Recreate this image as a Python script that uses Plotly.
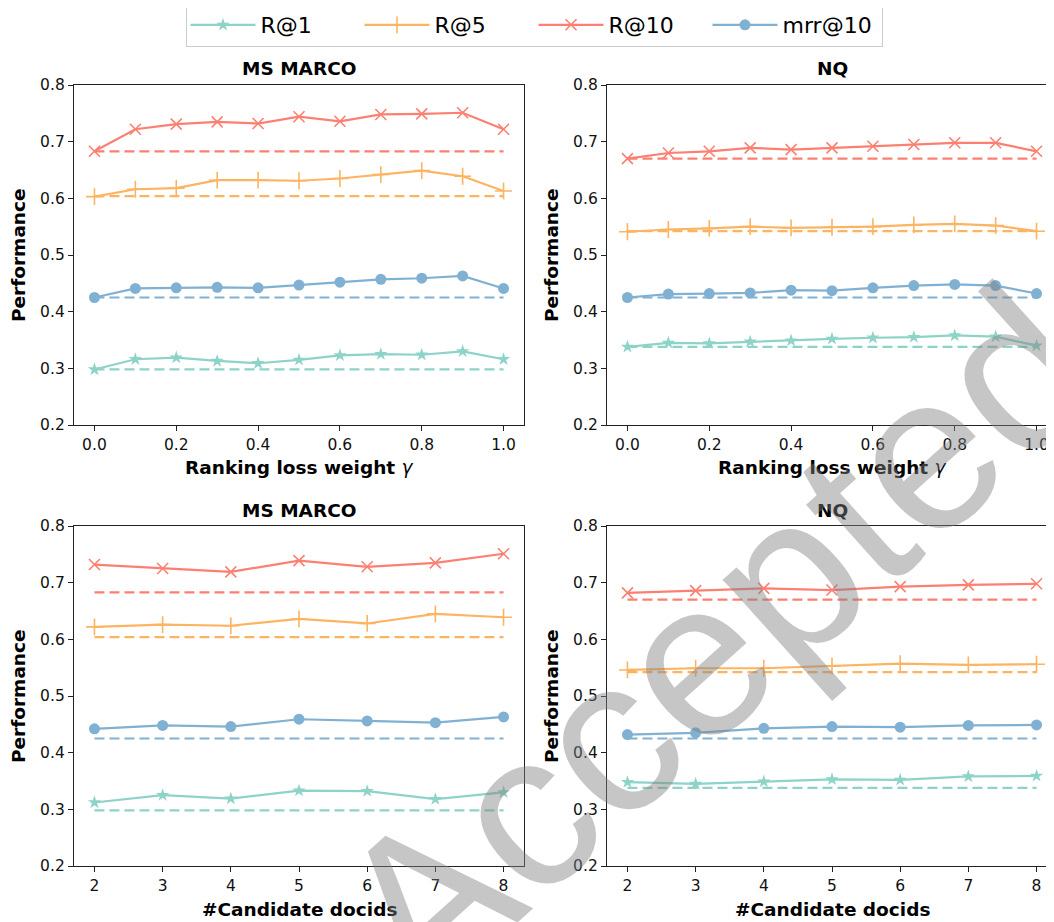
import plotly.graph_objects as go

# screen size and page offset (browser body margin)
SW, SH = 1054, 922
OFF = 8
W, H = SW - OFF, SH - OFF

# ---------------- data ----------------
metrics = ["R@1", "R@5", "R@10", "mrr@10"]
gammas = [0.0, 0.1, 0.2, 0.3, 0.4, 0.5, 0.6, 0.7, 0.8, 0.9, 1.0]
docids = [2, 3, 4, 5, 6, 7, 8]

# MS MARCO, ranking loss weight
msm_gamma_r1 = [0.298, 0.316, 0.319, 0.313, 0.309, 0.315, 0.323, 0.325, 0.324, 0.330, 0.316]
msm_gamma_r5 = [0.603, 0.616, 0.618, 0.632, 0.632, 0.631, 0.635, 0.642, 0.649, 0.639, 0.613]
msm_gamma_r10 = [0.683, 0.722, 0.731, 0.735, 0.732, 0.744, 0.736, 0.748, 0.749, 0.751, 0.722]
msm_gamma_mrr = [0.425, 0.441, 0.442, 0.443, 0.442, 0.447, 0.452, 0.457, 0.459, 0.463, 0.441]

# NQ, ranking loss weight
nq_gamma_r1 = [0.338, 0.345, 0.344, 0.347, 0.349, 0.352, 0.354, 0.355, 0.358, 0.356, 0.340]
nq_gamma_r5 = [0.541, 0.545, 0.547, 0.550, 0.548, 0.549, 0.550, 0.553, 0.555, 0.552, 0.542]
nq_gamma_r10 = [0.670, 0.680, 0.683, 0.689, 0.686, 0.689, 0.692, 0.695, 0.698, 0.698, 0.683]
nq_gamma_mrr = [0.425, 0.431, 0.432, 0.433, 0.438, 0.437, 0.442, 0.446, 0.448, 0.446, 0.432]

# MS MARCO, #candidate docids
msm_doc_r1 = [0.312, 0.325, 0.319, 0.333, 0.332, 0.318, 0.330]
msm_doc_r5 = [0.622, 0.626, 0.624, 0.636, 0.628, 0.645, 0.639]
msm_doc_r10 = [0.732, 0.725, 0.719, 0.739, 0.728, 0.735, 0.751]
msm_doc_mrr = [0.442, 0.448, 0.446, 0.459, 0.456, 0.453, 0.463]

# NQ, #candidate docids
nq_doc_r1 = [0.348, 0.345, 0.349, 0.353, 0.352, 0.358, 0.359]
nq_doc_r5 = [0.546, 0.549, 0.549, 0.553, 0.557, 0.555, 0.556]
nq_doc_r10 = [0.682, 0.686, 0.690, 0.687, 0.693, 0.696, 0.698]
nq_doc_mrr = [0.432, 0.435, 0.443, 0.446, 0.445, 0.448, 0.449]

# baselines (dashed)
msm_baseline = [0.298, 0.604, 0.683, 0.425]
nq_baseline = [0.338, 0.542, 0.670, 0.425]

y_ticks = [0.2, 0.3, 0.4, 0.5, 0.6, 0.7, 0.8]
gamma_ticks = [0.0, 0.2, 0.4, 0.6, 0.8, 1.0]

# ---------------- style ----------------
colors = ["#8dd3c7", "#fdb462", "#fb8072", "#80b1d3"]
symbols = ["star", "cross-thin", "x-thin", "circle"]
msizes = [10, 12, 11, 11]
FONT = "DejaVu Sans"

def px_x(p):  # screen pixel -> paper fraction
    return (p - OFF) / W

def px_y(p):
    return 1 - (p - OFF) / H

GAMMA_LABEL = "Ranking loss weight <span style='font-weight:normal'><i>γ</i></span>"
DOC_LABEL = "#Candidate docids"

# panel geometry in screen pixels: (left, right, top, bottom)
panels = [
    dict(name="MS MARCO", x=gammas, series=[msm_gamma_r1, msm_gamma_r5, msm_gamma_r10, msm_gamma_mrr],
         base=msm_baseline, box=(74, 524, 85, 425), xr=(-0.05, 1.05), xlabel=GAMMA_LABEL),
    dict(name="NQ", x=gammas, series=[nq_gamma_r1, nq_gamma_r5, nq_gamma_r10, nq_gamma_mrr],
         base=nq_baseline, box=(607, 1057, 85, 425), xr=(-0.05, 1.05), xlabel=GAMMA_LABEL),
    dict(name="MS MARCO", x=docids, series=[msm_doc_r1, msm_doc_r5, msm_doc_r10, msm_doc_mrr],
         base=msm_baseline, box=(74, 524, 526, 866), xr=(1.7, 8.3), xlabel=DOC_LABEL),
    dict(name="NQ", x=docids, series=[nq_doc_r1, nq_doc_r5, nq_doc_r10, nq_doc_mrr],
         base=nq_baseline, box=(607, 1057, 526, 866), xr=(1.7, 8.3), xlabel=DOC_LABEL),
]

fig = go.Figure()
annotations = []
layout = {}

for i, p in enumerate(panels):
    k = "" if i == 0 else str(i + 1)
    xa, ya = "x" + k, "y" + k
    L, R, T, B = p["box"]
    lo, hi = p["xr"]
    cx = (L + R) / 2
    if R > SW:  # clip right panels at the window edge
        hi = lo + (hi - lo) * (SW - L) / (R - L)
        R = SW
    for j, m in enumerate(metrics):
        fig.add_trace(go.Scatter(
            x=p["x"], y=p["series"][j], mode="lines+markers", name=m,
            legendgroup=m, showlegend=(i == 0),
            line=dict(color=colors[j], width=2.2),
            marker=dict(symbol=symbols[j], size=msizes[j], color=colors[j],
                        line=dict(color=colors[j], width=1.6 if j in (1, 2) else 0)),
            xaxis=xa, yaxis=ya, cliponaxis=False,
        ))
    for j, m in enumerate(metrics):
        fig.add_trace(go.Scatter(
            x=[p["x"][0], p["x"][-1]], y=[p["base"][j], p["base"][j]], mode="lines",
            legendgroup=m, showlegend=False, hoverinfo="skip",
            line=dict(color=colors[j], width=2.2, dash="10px,5px"),
            xaxis=xa, yaxis=ya,
        ))
    common = dict(showgrid=False, zeroline=False, showline=True, linecolor="#222", linewidth=1.3,
                  mirror=True, ticks="outside", ticklen=5, tickwidth=1.2, tickcolor="#222",
                  automargin=False, tickfont=dict(family=FONT, size=15.5, color="#111"))
    xkw = dict(domain=[px_x(L), px_x(R)], range=[lo, hi], anchor=ya, **common)
    if p["x"] is gammas:
        xkw.update(tickvals=gamma_ticks, ticktext=[f"{v:.1f}" for v in gamma_ticks])
    else:
        xkw.update(tickvals=docids, ticktext=[str(v) for v in docids])
    ykw = dict(domain=[px_y(B), px_y(T)], range=[0.2, 0.8], anchor=xa,
               tickvals=y_ticks, ticktext=[f"{v:.1f}" for v in y_ticks], **common)
    layout["xaxis" + k] = xkw
    layout["yaxis" + k] = ykw

    annotations.append(dict(text=p["name"], x=px_x(cx), y=px_y(T - 16), xref="paper", yref="paper",
                            xanchor="center", yanchor="middle", showarrow=False,
                            font=dict(family=FONT, size=18.5, color="black", weight="bold")))
    annotations.append(dict(text=p["xlabel"], x=px_x(cx), y=px_y(B + 43), xref="paper", yref="paper",
                            xanchor="center", yanchor="middle", showarrow=False,
                            font=dict(family=FONT, size=18.5, color="black", weight="bold")))
    annotations.append(dict(text="Performance", x=px_x(L - 56), y=px_y((T + B) / 2), xref="paper", yref="paper",
                            xanchor="center", yanchor="middle", showarrow=False, textangle=-90,
                            font=dict(family=FONT, size=18.5, color="black", weight="bold")))

# watermark
annotations.append(dict(text="Accepted", x=px_x(716), y=px_y(640), xref="paper", yref="paper",
                        xanchor="center", yanchor="middle", showarrow=False, textangle=-42,
                        font=dict(family="Liberation Sans", size=222,
                                  color="rgba(128,128,128,0.45)")))

fig.update_layout(
    template="none",
    width=W, height=H, margin=dict(l=0, r=0, t=0, b=0, autoexpand=False),
    paper_bgcolor="white", plot_bgcolor="white",
    showlegend=True,
    legend=dict(orientation="h", x=px_x(534), xanchor="center", y=px_y(3), yanchor="top",
                font=dict(family=FONT, size=22, color="black"),
                bordercolor="#cccccc", borderwidth=1, bgcolor="white",
                itemwidth=65, entrywidth=94, entrywidthmode="pixels"),
    annotations=annotations,
    **layout,
)

fig.write_html("out.html")
